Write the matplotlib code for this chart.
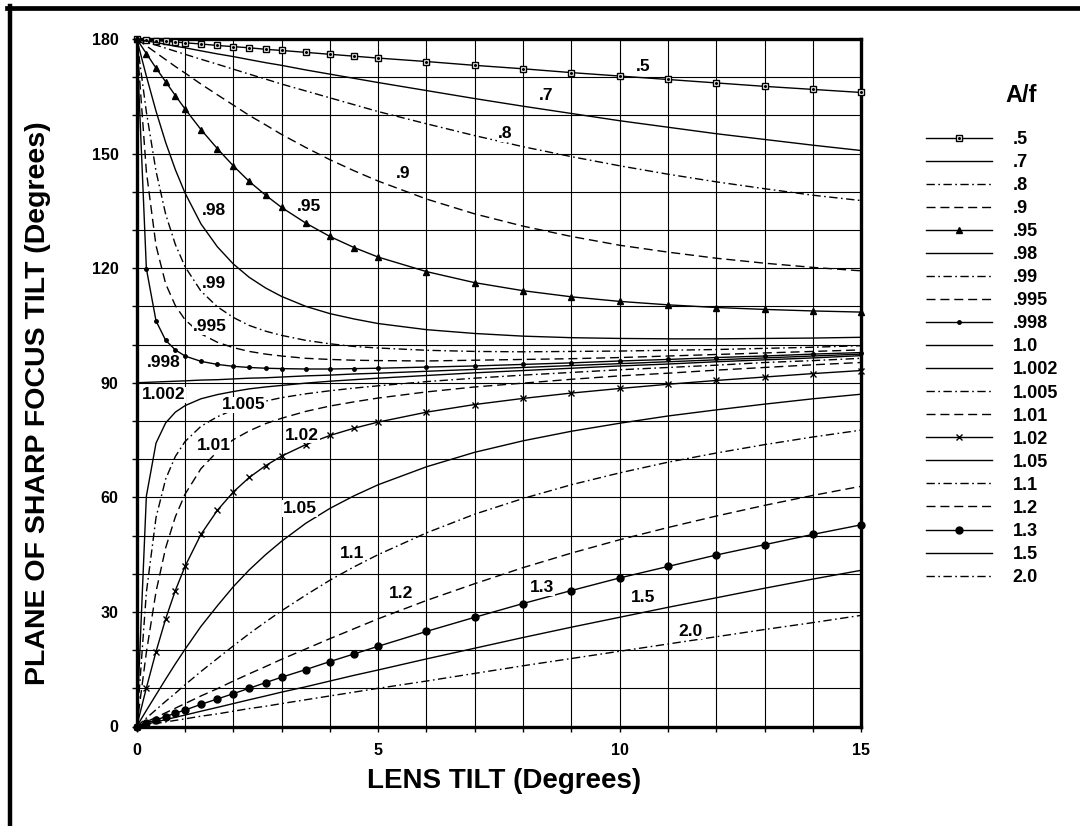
import matplotlib
matplotlib.use("Agg")
import matplotlib.pyplot as plt
from matplotlib.lines import Line2D

plt.rcParams['font.family'] = ['Liberation Sans', 'DejaVu Sans']
plt.rcParams['font.weight'] = 'bold'

# lens tilt (degrees) where the curves were sampled
lens_tilt = [0, 0.2, 0.4, 0.6, 0.8, 1.0, 1.33, 1.67, 2.0, 2.33, 2.67, 3.0, 3.5, 4.0, 4.5, 5.0,
             6, 7, 8, 9, 10, 11, 12, 13, 14, 15]

af_labels = ['.5', '.7', '.8', '.9', '.95', '.98', '.99', '.995', '.998', '1.0',
             '1.002', '1.005', '1.01', '1.02', '1.05', '1.1', '1.2', '1.3', '1.5', '2.0']

# plane of sharp focus tilt (degrees), one list per A/f
af_05 = [180, 179.8, 179.6, 179.4, 179.2, 179.0, 178.7, 178.3, 178.0, 177.7, 177.3, 177.0, 176.5,
         176.0, 175.5, 175.0, 174.1, 173.1, 172.2, 171.2, 170.3, 169.4, 168.5, 167.6, 166.8, 166.0]
af_07 = [180, 179.5, 179.1, 178.6, 178.1, 177.7, 176.9, 176.1, 175.4, 174.6, 173.8, 173.1, 171.9,
         170.8, 169.7, 168.6, 166.5, 164.4, 162.4, 160.5, 158.6, 156.9, 155.2, 153.7, 152.2, 150.8]
af_08 = [180, 179.2, 178.4, 177.6, 176.8, 176.0, 174.7, 173.4, 172.1, 170.8, 169.5, 168.2, 166.4,
         164.6, 162.8, 161.0, 157.8, 154.7, 151.8, 149.2, 146.8, 144.6, 142.6, 140.8, 139.1, 137.7]
af_09 = [180, 178.2, 176.4, 174.6, 172.8, 171.1, 168.2, 165.4, 162.7, 160.0, 157.5, 155.0, 151.6,
         148.4, 145.5, 142.8, 138.1, 134.2, 131.0, 128.3, 126.0, 124.2, 122.6, 121.3, 120.2, 119.3]
af_095 = [180, 176.2, 172.4, 168.8, 165.2, 161.7, 156.3, 151.3, 146.8, 142.7, 139.1, 135.9, 131.8,
          128.3, 125.4, 122.9, 119.1, 116.2, 114.1, 112.5, 111.3, 110.4, 109.7, 109.2, 108.8, 108.5]
af_098 = [180, 170.3, 161.1, 152.9, 145.8, 139.7, 131.6, 125.6, 121.1, 117.6, 114.8, 112.6, 110.0,
          108.1, 106.7, 105.5, 103.9, 102.9, 102.2, 101.8, 101.6, 101.5, 101.5, 101.6, 101.7, 101.9]
af_099 = [180, 160.9, 145.4, 134.1, 126.2, 120.4, 114.0, 109.9, 107.1, 105.0, 103.5, 102.4, 101.1,
          100.2, 99.5, 99.1, 98.5, 98.2, 98.1, 98.2, 98.3, 98.5, 98.7, 99.0, 99.3, 99.7]
af_0995 = [180, 145.3, 125.9, 115.9, 110.2, 106.5, 102.8, 100.6, 99.2, 98.2, 97.5, 97.0, 96.4,
           96.1, 95.9, 95.8, 95.7, 95.9, 96.1, 96.3, 96.6, 97.0, 97.4, 97.8, 98.2, 98.6]
af_0998 = [180, 119.9, 106.2, 101.1, 98.6, 97.0, 95.6, 94.8, 94.3, 94.0, 93.8, 93.7, 93.6,
           93.6, 93.7, 93.8, 94.1, 94.4, 94.8, 95.2, 95.7, 96.1, 96.6, 97.0, 97.5, 97.9]
af_10 = [90, 90.1, 90.2, 90.3, 90.4, 90.5, 90.7, 90.8, 91.0, 91.2, 91.3, 91.5, 91.8,
         92.0, 92.3, 92.5, 93.0, 93.5, 94.0, 94.5, 95.0, 95.5, 96.0, 96.5, 97.0, 97.5]
af_1002 = [0, 60.3, 74.2, 79.5, 82.3, 84.0, 85.8, 86.9, 87.7, 88.4, 88.9, 89.3, 89.9,
           90.4, 90.8, 91.2, 91.9, 92.6, 93.2, 93.8, 94.4, 94.9, 95.5, 96.0, 96.5, 97.1]
af_1005 = [0, 35.1, 54.7, 64.8, 70.7, 74.6, 78.6, 81.1, 82.9, 84.2, 85.2, 86.1, 87.1,
           87.9, 88.6, 89.2, 90.3, 91.2, 92.0, 92.7, 93.4, 94.0, 94.6, 95.3, 95.8, 96.4]
af_101 = [0, 19.4, 35.3, 46.8, 54.9, 60.8, 67.5, 72.0, 75.1, 77.4, 79.3, 80.7, 82.5,
          83.9, 85.0, 86.0, 87.6, 88.9, 89.9, 90.9, 91.8, 92.5, 93.3, 94.0, 94.7, 95.3]
af_102 = [0, 10.1, 19.6, 28.2, 35.6, 41.9, 50.3, 56.6, 61.4, 65.2, 68.3, 70.8, 73.8,
          76.2, 78.1, 79.7, 82.3, 84.3, 85.9, 87.3, 88.5, 89.6, 90.6, 91.5, 92.4, 93.2]
af_105 = [0, 4.2, 8.3, 12.4, 16.4, 20.2, 26.2, 31.6, 36.6, 41.0, 45.0, 48.5, 53.2,
          57.1, 60.4, 63.3, 68.0, 71.8, 74.8, 77.3, 79.4, 81.3, 82.9, 84.4, 85.8, 87.0]
af_11 = [0, 2.2, 4.4, 6.6, 8.7, 10.9, 14.4, 17.8, 21.1, 24.3, 27.4, 30.3, 34.4,
         38.3, 41.8, 45.0, 50.7, 55.6, 59.7, 63.3, 66.4, 69.2, 71.6, 73.8, 75.8, 77.6]
af_12 = [0, 1.2, 2.4, 3.6, 4.8, 6.0, 8.0, 9.9, 11.9, 13.8, 15.7, 17.6, 20.3,
         23.0, 25.6, 28.2, 33.0, 37.4, 41.6, 45.4, 48.9, 52.1, 55.1, 57.9, 60.5, 62.9]
af_13 = [0, 0.9, 1.7, 2.6, 3.5, 4.3, 5.8, 7.2, 8.6, 10.0, 11.5, 12.9, 14.9,
         17.0, 19.0, 21.0, 24.9, 28.6, 32.2, 35.6, 38.9, 41.9, 44.9, 47.6, 50.3, 52.8]
af_15 = [0, 0.6, 1.2, 1.8, 2.4, 3.0, 4.0, 5.0, 6.0, 7.0, 8.0, 9.0, 10.4,
         11.9, 13.4, 14.8, 17.7, 20.5, 23.3, 26.0, 28.6, 31.2, 33.7, 36.2, 38.6, 40.9]
af_20 = [0, 0.4, 0.8, 1.2, 1.6, 2.0, 2.7, 3.3, 4.0, 4.7, 5.3, 6.0, 7.0,
         8.0, 9.0, 10.0, 11.9, 13.9, 15.9, 17.8, 19.7, 21.6, 23.5, 25.4, 27.2, 29.1]

curves = [af_05, af_07, af_08, af_09, af_095, af_098, af_099, af_0995, af_0998, af_10,
          af_1002, af_1005, af_101, af_102, af_105, af_11, af_12, af_13, af_15, af_20]

DASH = (6.5, 3.5)
DASHDOT = (6, 2.5, 1.2, 2.5)
styles = [
    dict(marker='s', ms=4.5, mfc='white', mew=1.0),   # .5
    dict(),                                           # .7
    dict(dashes=DASHDOT),                             # .8
    dict(dashes=DASH),                                # .9
    dict(marker='^', ms=5),                           # .95
    dict(),                                           # .98
    dict(dashes=DASHDOT),                             # .99
    dict(dashes=DASH),                                # .995
    dict(marker='o', ms=2.5),                         # .998
    dict(),                                           # 1.0
    dict(),                                           # 1.002
    dict(dashes=DASHDOT),                             # 1.005
    dict(dashes=DASH),                                # 1.01
    dict(marker='x', ms=4, mew=1.0),                  # 1.02
    dict(),                                           # 1.05
    dict(dashes=DASHDOT),                             # 1.1
    dict(dashes=DASH),                                # 1.2
    dict(marker='o', ms=5),                           # 1.3
    dict(),                                           # 1.5
    dict(dashes=DASHDOT),                             # 2.0
]

# where each curve name is written on the chart (data coords)
label_pos = [(10.48, 172.7), (8.47, 165.1), (7.62, 155.3), (5.51, 144.8), (3.57, 136.1),
             (1.59, 135.2), (1.59, 116.0), (1.52, 104.7), (0.55, 95.2), None,
             (0.55, 86.8), (2.21, 84.2), (1.59, 73.7), (3.42, 76.3), (3.38, 57.1),
             (4.45, 45.3), (5.47, 34.9), (8.40, 36.3), (10.49, 33.7), (11.47, 25.0)]

W, H = 1080, 826
fig = plt.figure(figsize=(W / 100, H / 100), dpi=100)
ax = fig.add_axes([136.7 / W, 1 - 726.5 / H, (861.2 - 136.7) / W, (726.5 - 39) / H])

handles = []
for vals, st in zip(curves, styles):
    ln, = ax.plot(lens_tilt, vals, color='black', lw=1.0, zorder=3,
                  clip_on=('marker' not in st), **st)
    handles.append(ln)

# little dot inside the open squares of the .5 curve
dot, = ax.plot(lens_tilt, af_05, ls='none', marker='o', ms=1.2, color='black',
               zorder=4, clip_on=False)
handles[0] = (handles[0], dot)

for lab, pos in zip(af_labels, label_pos):
    if pos is None:
        continue
    ax.text(pos[0], pos[1], lab, ha='center', va='center', fontsize=12.5, fontweight='bold',
            zorder=5, bbox=dict(fc='white', ec='none', pad=0.5))

ax.set_xlim(0, 15)
ax.set_ylim(0, 180)
ax.set_xticks([0, 5, 10, 15])
ax.set_xticks(range(16), minor=True)
ax.set_yticks(range(0, 181, 30))
ax.set_yticks(range(0, 181, 10), minor=True)
ax.grid(True, which='both', color='black', lw=0.8)
ax.set_axisbelow(True)
ax.tick_params(which='both', direction='out', length=3.6, width=1.0, labelsize=11.5)
ax.tick_params(axis='y', pad=9.5)
ax.tick_params(axis='x', pad=8)
for sp in ax.spines.values():
    sp.set_linewidth(2.4)

fig.text(504 / W, 1 - 781 / H, 'LENS TILT (Degrees)', ha='center', va='center',
         fontsize=20, fontweight='bold')
fig.text(38 / W, 1 - 403 / H, 'PLANE OF SHARP FOCUS TILT (Degrees)', rotation=90,
         ha='center', va='center', fontsize=20.5, fontweight='bold')

fig.text(1021 / W, 1 - 95 / H, 'A/f', ha='center', va='center', fontsize=17, fontweight='bold')
fig.legend(handles, af_labels, loc='upper left', bbox_to_anchor=(926 / W, 1 - 131 / H),
           frameon=False, fontsize=13, handlelength=3.65, handletextpad=1.15,
           labelspacing=0.335, borderpad=0, borderaxespad=0, numpoints=1)

# page frame: heavy top rule and left rule
fig.add_artist(Line2D([7 / W, 1], [1 - 8.3 / H] * 2, color='black', lw=3.4,
                      transform=fig.transFigure))
fig.add_artist(Line2D([9.5 / W] * 2, [0, 1 - 6 / H], color='black', lw=3.2,
                      transform=fig.transFigure))

fig.savefig('out.png', dpi=100)
